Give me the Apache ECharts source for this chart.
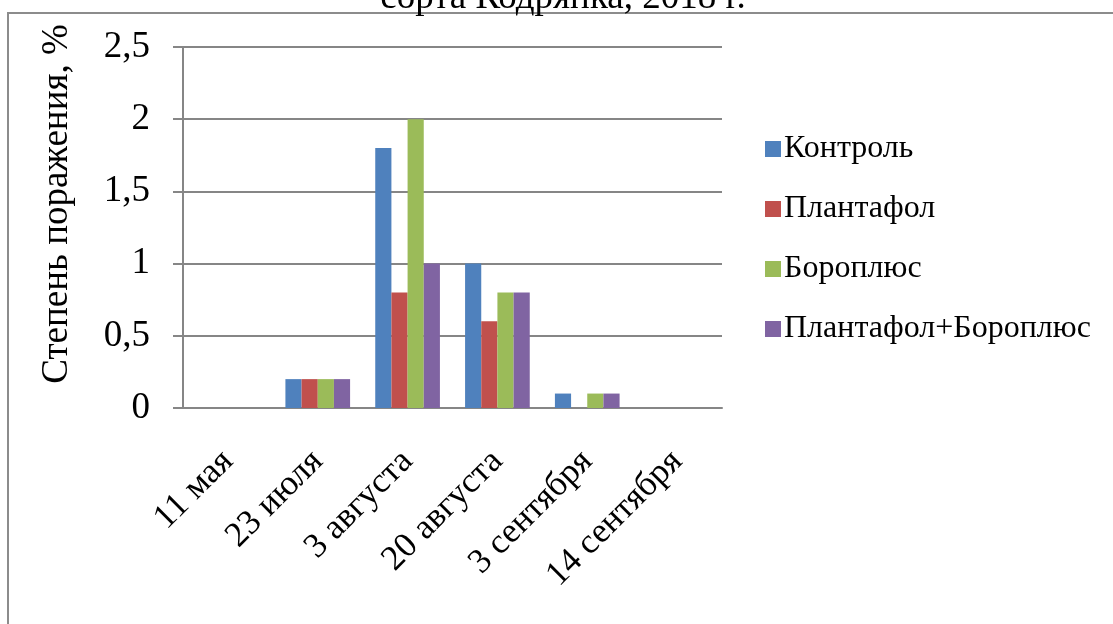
<!DOCTYPE html>
<html><head><meta charset="utf-8">
<script src="https://cdn.jsdelivr.net/npm/echarts@6/dist/echarts.min.js"></script>
<style>html,body{margin:0;padding:0;background:#fff}#c{width:1113px;height:624px}</style>
</head><body><div id="c"></div>
<script>
var categories = ['11 мая', '23 июля', '3 августа', '20 августа', '3 сентября', '14 сентября'];
var seriesNames = ['Контроль', 'Плантафол', 'Бороплюс', 'Плантафол+Бороплюс'];
var control = [0, 0.2, 1.8, 1.0, 0.1, 0];
var plantafol = [0, 0.2, 0.8, 0.6, 0, 0];
var boroplus = [0, 0.2, 2.0, 0.8, 0.1, 0];
var plantBoro = [0, 0.2, 1.0, 0.8, 0.1, 0];
var yTicks = [0, 0.5, 1, 1.5, 2, 2.5];
var colors = ['#4F81BD', '#C0504D', '#9BBB59', '#8064A2'];
var FONT = '"Liberation Serif", "Times New Roman", serif';
var values = [control, plantafol, boroplus, plantBoro];

var chart = echarts.init(document.getElementById('c'), null, {renderer: 'canvas'});
chart.setOption({
  animation: false,
  backgroundColor: '#fff',
  graphic: [
    {type: 'rect', shape: {x: 8, y: 13, width: 1200, height: 700}, style: {fill: 'none', stroke: '#8c8c8c', lineWidth: 2}, z: -10},
    {type: 'text', x: 563, y: 17, style: {text: 'сорта Кодрянка, 2018 г.', font: '37px ' + FONT, fill: '#000', textAlign: 'center', textVerticalAlign: 'bottom'}},
    {type: 'text', x: 57, y: 204, rotation: Math.PI / 2, style: {text: 'Степень поражения, %', font: '37px ' + FONT, fill: '#000', textAlign: 'center', textVerticalAlign: 'middle'}}
  ],
  legend: {
    orient: 'vertical',
    left: 760, top: 128,
    itemWidth: 16, itemHeight: 16, itemGap: 28,
    icon: 'rect',
    textStyle: {fontFamily: FONT, fontSize: 32, color: '#000', padding: [0, 0, 0, -2]},
    data: seriesNames
  },
  grid: {left: 183, right: 391, top: 47, bottom: 216, containLabel: false},
  xAxis: {
    type: 'category', data: categories,
    axisLine: {show: true, lineStyle: {color: '#868686', width: 2}},
    axisTick: {show: false},
    axisLabel: {rotate: 45, fontFamily: FONT, fontSize: 35, color: '#000', margin: 48, interval: 0}
  },
  yAxis: {
    type: 'value', min: 0, max: 2.5, interval: 0.5,
    axisLine: {show: true, lineStyle: {color: '#868686', width: 2}},
    axisTick: {show: true, length: 10, lineStyle: {color: '#868686', width: 2}},
    splitLine: {show: true, lineStyle: {color: '#868686', width: 2}},
    axisLabel: {fontFamily: FONT, fontSize: 37, color: '#000', margin: 33,
      formatter: function (v) { return yTicks.indexOf(v) >= 0 ? String(v).replace('.', ',') : ''; }}
  },
  series: seriesNames.map(function (n, i) {
    return {name: n, type: 'bar', data: values[i], barGap: '0%', barCategoryGap: '28%',
      itemStyle: {color: colors[i]}};
  })
});
</script></body></html>
